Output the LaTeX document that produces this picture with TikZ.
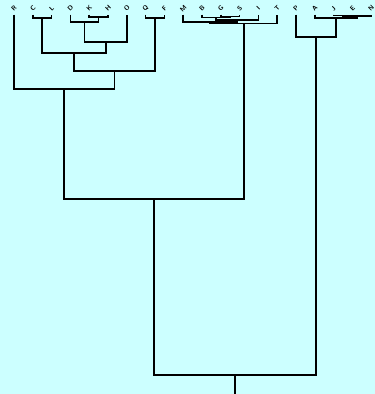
\documentclass[tikz,border=0pt]{standalone}
\usepackage{tikz}
\usepackage{xcolor}
\definecolor{paleaqua}{HTML}{CCFFFF}

\begin{document}
\begin{tikzpicture}[x=1pt, y=-1pt, line width=1.6pt,
    leaf/.style={font=\fontsize{6.5}{7}\selectfont\sffamily\bfseries, rotate=45, inner sep=0pt},
    link/.style={draw=black}]
    \fill[paleaqua] (0,0) rectangle (375,394);
    \useasboundingbox (0,0) rectangle (375,394);
    % leaves
    \foreach \n [count=\i from 0] in {R,C,L,D,K,H,O,Q,F,M,B,G,S,I,T,P,A,J,E,N} {
      \node[leaf] (\n) at ({14+18.8*\i},8.5) {\n};
      \coordinate (\n-t) at ({14+18.8*\i},14.5);
    }
    % merge points
    \coordinate (kh) at (98.6,17);
    \coordinate (dkh) at (84.3,22);
    \coordinate (dkho) at (105.7,42);
    \coordinate (cl) at (42.2,18);
    \coordinate (cldkho) at (74.0,53);
    \coordinate (qf) at (155.0,18);
    \coordinate (lftA) at (114.5,71);
    \coordinate (lft) at (64.2,89);
    \coordinate (gs) at (230.2,16.3);
    \coordinate (bgs) at (216.1,17.4);
    \coordinate (bgsi) at (237.1,20);
    \coordinate (mbgsi) at (210.0,22);
    \coordinate (mid) at (244.0,23.4);
    \coordinate (je) at (343.0,15.6);
    \coordinate (jen) at (357.1,16.2);
    \coordinate (ajen) at (335.9,17.8);
    \coordinate (rgt) at (316.0,36.7);
    \coordinate (lm) at (154.1,199);
    \coordinate (root) at (235.0,375);
    \coordinate (base) at (235.0,394);
    % left cluster
    \draw[link] (K-t) |- (kh) -| (H-t);
    \draw[link] (D-t) |- (dkh) -| (kh);
    \draw[link] (dkh) |- (dkho) -| (O-t);
    \draw[link] (C-t) |- (cl) -| (L-t);
    \draw[link] (cl) |- (cldkho) -| (dkho);
    \draw[link] (Q-t) |- (qf) -| (F-t);
    \draw[link] (cldkho) |- (lftA) -| (qf);
    \draw[link] (R-t) |- (lft) -| (lftA);
    % middle cluster
    \draw[link] (G-t) |- (gs) -| (S-t);
    \draw[link] (B-t) |- (bgs) -| (gs);
    \draw[link] (bgs) |- (bgsi) -| (I-t);
    \draw[link] (M-t) |- (mbgsi) -| (bgsi);
    \draw[link] (mbgsi) |- (mid) -| (T-t);
    % right cluster
    \draw[link] (J-t) |- (je) -| (E-t);
    \draw[link] (je) |- (jen) -| (N-t);
    \draw[link] (A-t) |- (ajen) -| (jen);
    \draw[link] (P-t) |- (rgt) -| (ajen);
    % upper joins
    \draw[link] (lft) |- (lm) -| (mid);
    \draw[link] (lm) |- (root) -| (rgt);
    \draw[link] (root) -- (base);
  \end{tikzpicture}
\end{document}
